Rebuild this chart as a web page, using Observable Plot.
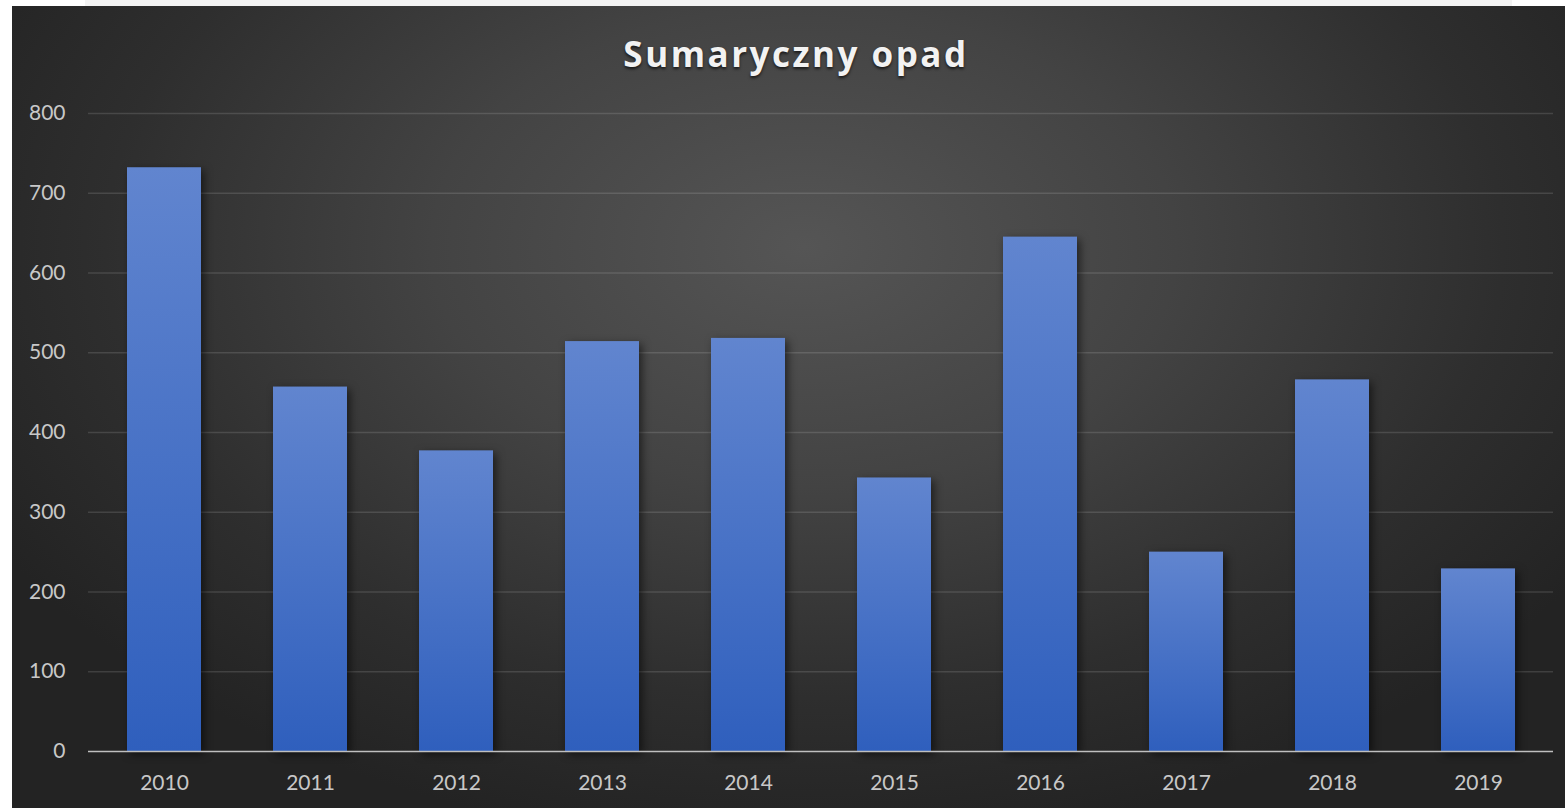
<!DOCTYPE html>
<html>
<head>
<meta charset="utf-8">
<script src="https://cdn.jsdelivr.net/npm/d3@7"></script>
<script src="https://cdn.jsdelivr.net/npm/@observablehq/plot@0.6"></script>
<style>
  html, body { margin: 0; padding: 0; background: #ffffff; }
  #page { position: relative; width: 1565px; height: 808px; overflow: hidden; }
  #strip { position: absolute; left: 85px; top: 0; width: 1427px; height: 6px; background: #f3f3f3; }
  #bg { position: absolute; left: 12px; top: 6px; right: 0; bottom: 0;
        background: radial-gradient(ellipse 60% 75% at 51% 30%, #555555 0%, #434343 40%, #2e2e2e 75%, #232323 100%); }
  #title { position: absolute; top: 30px; left: 27px; right: 0; text-align: center;
           font-family: "Open Sans", sans-serif; font-weight: 700; font-size: 35px; letter-spacing: 2.5px;
           color: #f2f2f2; text-shadow: 0 2px 3px rgba(0,0,0,0.65); }
  #chart { position: absolute; left: 0; top: 100px; }
</style>
</head>
<body>
<div id="page">
  <div id="strip"></div>
  <div id="bg"></div>
  <div id="title">Sumaryczny opad</div>
  <div id="chart"></div>
</div>
<script>
const years = ["2010","2011","2012","2013","2014","2015","2016","2017","2018","2019"];
const values = [732, 457, 377, 514, 518, 343, 645, 250, 466, 229];
const yTicks = [0, 100, 200, 300, 400, 500, 600, 700, 800];

const data = years.map((y, i) => ({year: y, value: values[i]}));

const plot = Plot.plot({
  width: 1565,
  height: 708,
  marginTop: 13,
  marginBottom: 57,
  marginLeft: 88,
  marginRight: 12,
  style: {background: "transparent", fontFamily: "Lato, sans-serif", fontSize: "21px", color: "#c8c8c8", overflow: "visible"},
  x: {domain: years, paddingInner: 0.495, paddingOuter: 0.2475, label: null},
  y: {domain: [0, 800], label: null},
  marks: [
    Plot.ruleY(yTicks.filter(d => d > 0), {stroke: "#ffffff", strokeOpacity: 0.13, strokeWidth: 1.5}),
    Plot.barY(data, {x: "year", y: "value", fill: "url(#barGrad)"}),
    Plot.ruleY([0], {stroke: "#bfbfbf", strokeWidth: 1.5}),
    Plot.axisY({ticks: yTicks, tickSize: 0, tickPadding: 23, fill: "#c8c8c8", label: null}),
    Plot.axisX({tickSize: 0, tickPadding: 24, fill: "#c8c8c8", label: null})
  ]
});

const svg = d3.select(plot);
const defs = svg.insert("defs", ":first-child");
const grad = defs.append("linearGradient").attr("id", "barGrad")
  .attr("x1", 0).attr("y1", 0).attr("x2", 0).attr("y2", 1);
grad.append("stop").attr("offset", "0%").attr("stop-color", "#6185cf");
grad.append("stop").attr("offset", "100%").attr("stop-color", "#2f5fbd");
svg.selectAll('g[aria-label="bar"]').style("filter", "drop-shadow(3px 3px 4px rgba(0,0,0,0.55))");

document.getElementById("chart").appendChild(plot);
</script>
</body>
</html>
